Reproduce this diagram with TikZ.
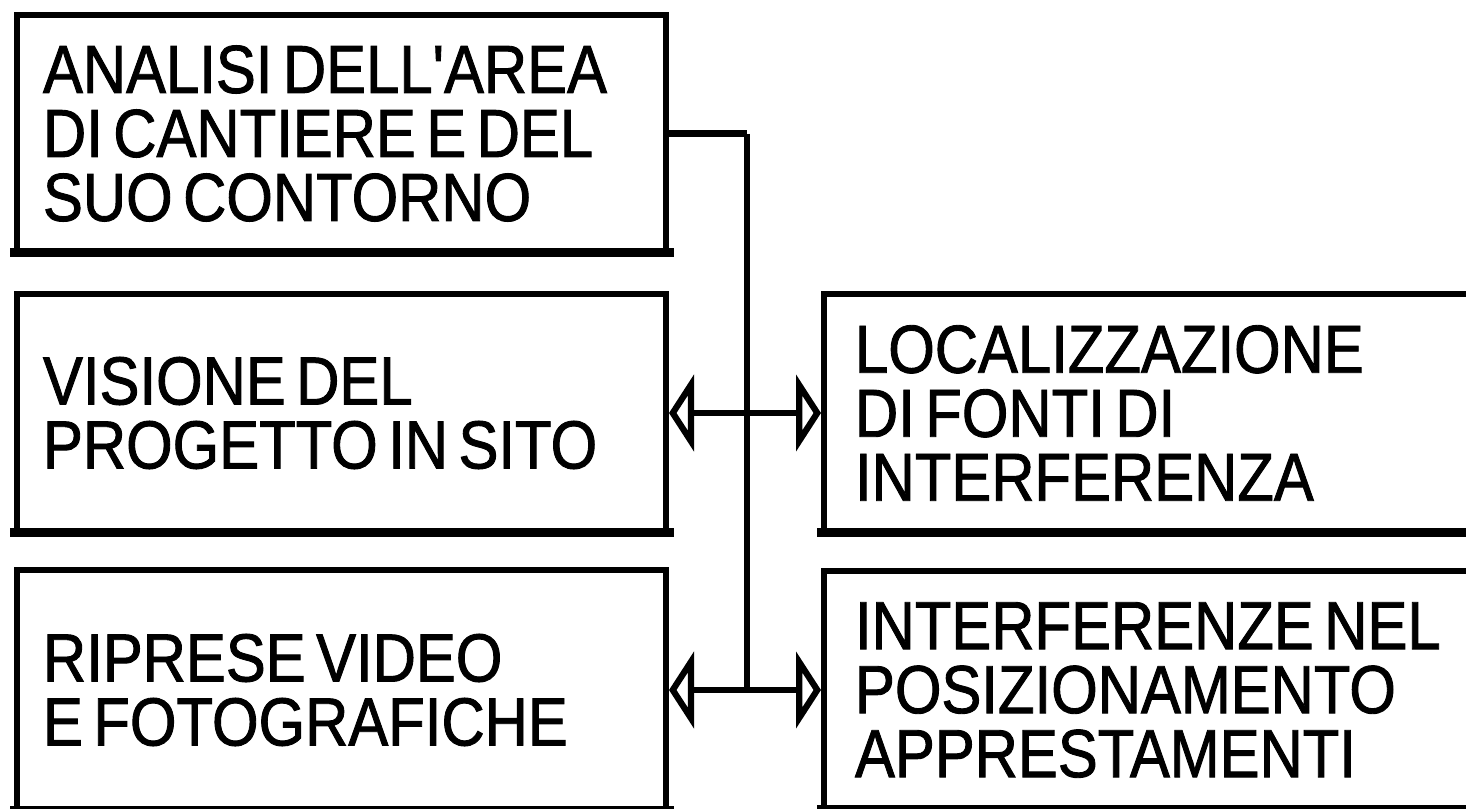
\documentclass[tikz,border=0pt]{standalone}
\usepackage{fontspec}
\setmainfont{Liberation Sans}[FakeStretch=0.88, FakeBold=1.3]
\newfontfamily\aposfont{Liberation Sans}[FakeStretch=0.88, FakeBold=1.3]
\newcommand{\straightapos}{{\aposfont\symbol{39}}}
\newcommand{\boxfont}{\fontsize{68}{64}\selectfont}
\newcommand{\tightspaces}{\fontdimen2\font=10.5pt\relax\fontdimen3\font=1pt\relax\fontdimen4\font=1pt\relax\spaceskip=10.5pt plus 1pt minus 1pt\relax\xspaceskip=10.5pt\relax}
\usetikzlibrary{arrows.meta}
\tikzset{
  box/.style={draw=black, line width=6pt, fill=white, rectangle, align=left,
    font=\boxfont, execute at begin node=\tightspaces, inner ysep=0pt},
  lbox/.style={box, minimum width=649pt, text width=597pt, inner xsep=26pt},
  rbox/.style={box, minimum width=680pt, text width=618pt, inner xsep=31pt},
  bottomedge/.style={line width=9pt, line cap=rect},
  conn/.style={line width=5.5pt},
  dblarrow/.style={conn, {Triangle[open, length=25pt, width=76pt, line width=6.5pt]}-{Triangle[open, length=25pt, width=76pt, line width=6.5pt]}}
}
\begin{document}
\begin{tikzpicture}[x=1pt, y=-1pt]
\useasboundingbox (0,0) rectangle (1466,808);
\clip (0,0) rectangle (1466,808);
\fill[white] (0,0) rectangle (1466,808);
\node[lbox, minimum height=237pt] (A) at (341.5,133.5) {ANALISI DELL\straightapos AREA\\DI CANTIERE E DEL\\SUO CONTORNO};
\node[lbox, minimum height=239pt] (B) at (341.5,413) {VISIONE DEL\\PROGETTO IN SITO};
\node[lbox, minimum height=240pt] (C) at (341.5,690) {RIPRESE VIDEO\\E FOTOGRAFICHE};
\node[rbox, minimum height=238pt] (D) at (1164,413) {LOCALIZZAZIONE\\DI FONTI DI\\INTERFERENZA};
\node[rbox, minimum height=238pt] (E) at (1164,690) {INTERFERENZE NEL\\POSIZIONAMENTO\\APPRESTAMENTI};
\foreach \n in {A,B,C,D,E}{
  \draw[bottomedge] ([yshift=3pt]\n.south west) -- ([yshift=3pt]\n.south east);
}
\coordinate (jn) at (747,690);
\draw[conn, line width=7pt] (A.east) -- (A.east -| jn);
\draw[conn] (A.east -| jn) -- (jn);
\draw[dblarrow] (B.east) -- (D.west);
\draw[dblarrow] (C.east) -- (E.west);
\end{tikzpicture}
\end{document}
